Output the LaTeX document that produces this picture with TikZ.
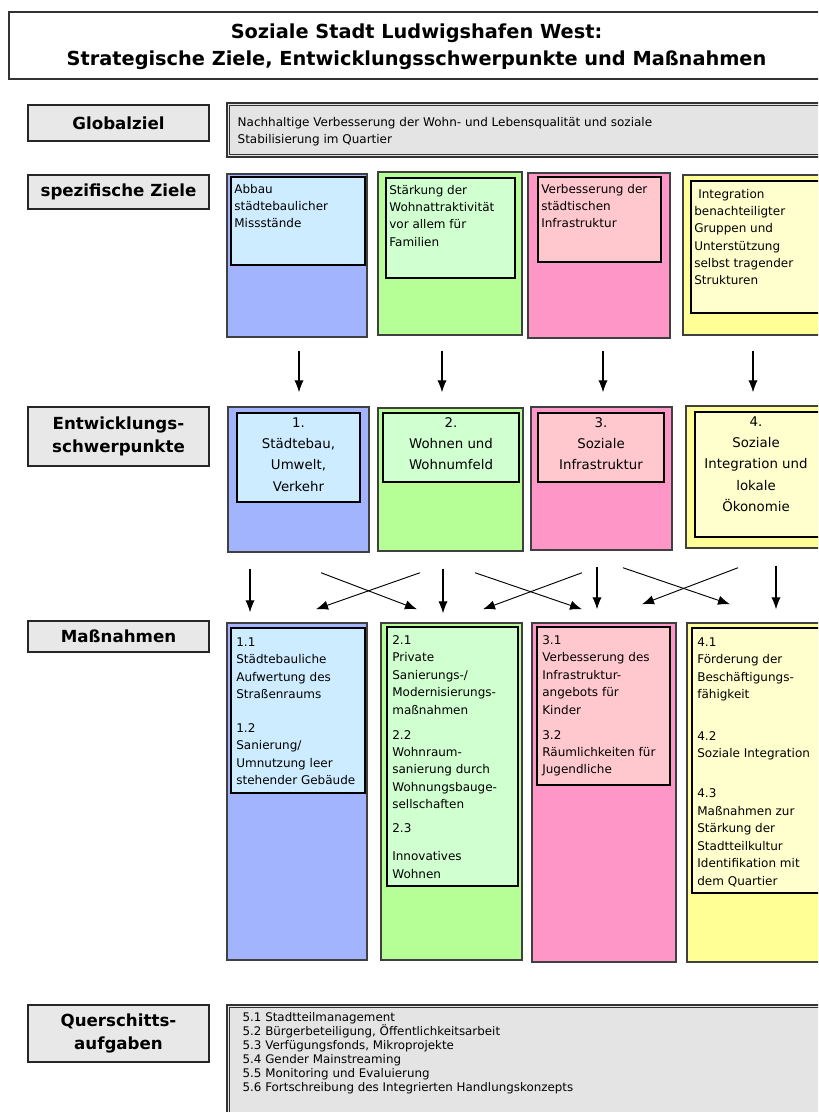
\documentclass[tikz,border=0pt]{standalone}
\usepackage{fontspec}
\setmainfont{DejaVu Sans}
\usetikzlibrary{arrows.meta, positioning, calc, fit}

\definecolor{blueout}{RGB}{163,180,255}
\definecolor{bluein}{RGB}{206,236,255}
\definecolor{greenout}{RGB}{182,255,150}
\definecolor{greenin}{RGB}{208,255,208}
\definecolor{pinkout}{RGB}{255,150,200}
\definecolor{pinkin}{RGB}{255,200,206}
\definecolor{yellowout}{RGB}{255,255,150}
\definecolor{yellowin}{RGB}{255,255,206}
\definecolor{lblgray}{RGB}{232,232,232}
\definecolor{boxgray}{RGB}{228,228,228}

\begin{document}
\begin{tikzpicture}[
    x=0.75pt, y=-0.75pt,
    colbox/.style={draw=black!75, line width=1.1pt, inner sep=0pt},
    inbox/.style={draw=black, line width=1.4pt, inner sep=0pt},
    lblbox/.style={draw=black!85, line width=1pt, fill=lblgray, inner sep=0pt},
    lbltext/.style={inner sep=0pt, align=center, font=\fontsize{12.5}{17}\selectfont\bfseries},
    graybox/.style={draw=black!80, line width=0.9pt, fill=boxgray, inner sep=0pt},
    frame/.style={draw=black!80, line width=0.6pt, inner sep=-2.4pt},
    coltext/.style={anchor=north west, inner sep=0pt, align=left, font=\fontsize{9}{12.9}\selectfont},
    midtext/.style={anchor=north, inner sep=0pt, align=center, font=\fontsize{10}{16}\selectfont},
    arr/.style={-{Latex[length=9pt,width=7pt]}, line width=0.8pt},
    crossarr/.style={-{Latex[length=9pt,width=7pt]}, line width=0.7pt}
]
\useasboundingbox (0,0) rectangle (818,1112);
\clip (0,0) rectangle (818,1112);

% title
\node [draw=black!80, line width=1pt, inner sep=0pt, fit={(9,12) (830,79)}] (title) {};
\node [inner sep=0pt, align=center, font=\fontsize{14.5}{20}\selectfont\bfseries] (titletext)
  at ($(title.center)+(-3,1)$)
  {Soziale Stadt Ludwigshafen West:\\Strategische Ziele, Entwicklungsschwerpunkte und Maßnahmen};

% row labels
\node [lblbox, fit={(28,105) (209,141)}] (glob) {};
\node [lblbox, fit={(28,175) (209,209)}] (spez) {};
\node [lblbox, fit={(28,407) (209,466)}] (entw) {};
\node [lblbox, fit={(28,621) (209,652)}] (mass) {};
\node [lblbox, fit={(28,1005) (209,1062)}] (quer) {};
\node [lbltext] (globt) at (glob) {Globalziel};
\node [lbltext] (spezt) at (spez) {spezifische Ziele};
\node [lbltext] (entwt) at (entw) {Entwicklungs-\\schwerpunkte};
\node [lbltext] (masst) at (mass) {Maßnahmen};
\node [lbltext] (quert) at (quer) {Querschitts-\\aufgaben};

% global goal
\node [graybox, fit={(227,103) (830,157)}] (globbox) {};
\node [frame, fit=(globbox)] (globframe) {};
\node [coltext] (globtext) at ($(globbox.north west)+(11,15)$)
  {Nachhaltige Verbesserung der Wohn- und Lebensqualität und soziale\\Stabilisierung im Quartier};

% specific goals
\node [colbox, fill=blueout, fit={(227,174) (367,337)}] (z1) {};
\node [colbox, fill=greenout, fit={(378,172) (522,335)}] (z2) {};
\node [colbox, fill=pinkout, fit={(528,173) (670,338)}] (z3) {};
\node [colbox, fill=yellowout, fit={(683,175) (830,335)}] (z4) {};
\node [inbox, fill=bluein, fit={(231,177) (365,265)}] (z1i) {};
\node [inbox, fill=greenin, fit={(386,178) (515,278)}] (z2i) {};
\node [inbox, fill=pinkin, fit={(538,177) (661,262)}] (z3i) {};
\node [inbox, fill=yellowin, fit={(691,181) (823,313)}] (z4i) {};
\node [coltext] (z1t) at ($(z1i.north west)+(4,8)$) {Abbau\\städtebaulicher\\Missstände};
\node [coltext] (z2t) at ($(z2i.north west)+(4,8)$) {Stärkung der\\Wohnattraktivität\\vor allem für\\Familien};
\node [coltext] (z3t) at ($(z3i.north west)+(4,8)$) {Verbesserung der\\städtischen\\Infrastruktur};
\node [coltext] (z4t) at ($(z4i.north west)+(4,9)$) {\hspace{3pt}Integration\\benachteiligter\\Gruppen und\\Unterstützung\\selbst tragender\\Strukturen};

% focal points
\node [colbox, fill=blueout, fit={(228,407) (369,552)}] (e1) {};
\node [colbox, fill=greenout, fit={(378,408) (523,551)}] (e2) {};
\node [colbox, fill=pinkout, fit={(531,407) (672,550)}] (e3) {};
\node [colbox, fill=yellowout, fit={(686,406) (830,548)}] (e4) {};
\node [inbox, fill=bluein, fit={(237,413) (360,502)}] (e1i) {};
\node [inbox, fill=greenin, fit={(383,413) (519,482)}] (e2i) {};
\node [inbox, fill=pinkin, fit={(538,413) (664,482)}] (e3i) {};
\node [inbox, fill=yellowin, fit={(695,412) (821,537)}] (e4i) {};
\node [midtext] (e1t) at ($(e1i.north)+(0,5)$) {1.\\Städtebau,\\Umwelt,\\Verkehr};
\node [midtext] (e2t) at ($(e2i.north)+(0,5)$) {2.\\Wohnen und\\Wohnumfeld};
\node [midtext] (e3t) at ($(e3i.north)+(0,5)$) {3.\\Soziale\\Infrastruktur};
\node [midtext] (e4t) at ($(e4i.north)+(-2,5)$) {4.\\Soziale\\Integration und\\lokale\\Ökonomie};

% measures
\node [colbox, fill=blueout, fit={(227,623) (367,960)}] (m1) {};
\node [colbox, fill=greenout, fit={(381,623) (522,960)}] (m2) {};
\node [colbox, fill=pinkout, fit={(532,623) (676,962)}] (m3) {};
\node [colbox, fill=yellowout, fit={(687,623) (830,962)}] (m4) {};
\node [inbox, fill=bluein, fit={(231,628) (365,793)}] (m1i) {};
\node [inbox, fill=greenin, fit={(387,627) (518,886)}] (m2i) {};
\node [inbox, fill=pinkin, fit={(537,627) (670,785)}] (m3i) {};
\node [inbox, fill=yellowin, fit={(692,628) (823,893)}] (m4i) {};
\node [coltext, font=\fontsize{9}{13.1}\selectfont] (m1t) at ($(m1i.north west)+(6,10)$)
  {1.1\\Städtebauliche\\Aufwertung des\\Straßenraums\\[12.4pt]1.2\\Sanierung/\\Umnutzung leer\\stehender Gebäude};
\node [coltext, font=\fontsize{9}{13.1}\selectfont] (m2t) at ($(m2i.north west)+(6,9)$)
  {2.1\\Private\\Sanierungs-/\\Modernisierungs-\\maßnahmen\\[5.6pt]2.2\\Wohnraum-\\sanierung durch\\Wohnungsbauge-\\sellschaften\\[4.9pt]2.3\\[7.9pt]Innovatives\\Wohnen};
\node [coltext, font=\fontsize{9}{13.1}\selectfont] (m3t) at ($(m3i.north west)+(6,9)$)
  {3.1\\Verbesserung des\\Infrastruktur-\\angebots für\\Kinder\\[5.6pt]3.2\\Räumlichkeiten für\\Jugendliche};
\node [coltext, font=\fontsize{9}{13.1}\selectfont] (m4t) at ($(m4i.north west)+(6,10)$)
  {4.1\\Förderung der\\Beschäftigungs-\\fähigkeit\\[18.4pt]4.2\\Soziale Integration\\[16.9pt]4.3\\Maßnahmen zur\\Stärkung der\\Stadtteilkultur\\Identifikation mit\\dem Quartier};

% cross-cutting tasks
\node [graybox, fit={(227,1005) (830,1125)}] (querbox) {};
\node [frame, fit=(querbox)] (querframe) {};
\node [coltext, font=\fontsize{8.9}{10.5}\selectfont] (quertext) at ($(querbox.north west)+(16,8)$)
  {5.1 Stadtteilmanagement\\5.2 Bürgerbeteiligung, Öffentlichkeitsarbeit\\5.3 Verfügungsfonds, Mikroprojekte\\5.4 Gender Mainstreaming\\5.5 Monitoring und Evaluierung\\5.6 Fortschreibung des Integrierten Handlungskonzepts};

% goals -> focal points
\draw [arr] ($(z1.south)+(2,13)$) -- ($(e1.north)+(0.5,-14)$);
\draw [arr] ($(z2.south)+(-8,15)$) -- ($(e2.north)+(-8.5,-15)$);
\draw [arr] ($(z3.south)+(4,12)$) -- ($(e3.north)+(1.5,-14)$);
\draw [arr] ($(z4.south)+(-3.5,15)$) -- ($(e4.north)+(-5,-13)$);

% focal points -> measures
\draw [arr] ($(e1.south)+(-48.5,16)$) -- ($(m1.north)+(-47,-10)$);
\draw [arr] ($(e2.south)+(-7.5,17)$) -- ($(m2.north)+(-8.5,-9)$);
\draw [arr] ($(e3.south)+(-4.5,16)$) -- ($(m3.north)+(-7,-13)$);
\draw [arr] ($(e4.south)+(18,17)$) -- ($(m4.north)+(17.5,-13)$);
\draw [crossarr] ($(e1.south)+(22.5,20)$) -- ($(m2.north)+(-34.5,-13)$);
\draw [crossarr] ($(e2.south)+(-30.5,21)$) -- ($(m1.north)+(19,-13)$);
\draw [crossarr] ($(e2.south)+(24.5,21)$) -- ($(m3.north)+(-22,-13)$);
\draw [crossarr] ($(e3.south)+(-19.5,22)$) -- ($(m2.north)+(31.5,-13)$);
\draw [crossarr] ($(e3.south)+(21.5,17)$) -- ($(m4.north)+(-28.5,-18)$);
\draw [crossarr] ($(e4.south)+(-20,19)$) -- ($(m3.north)+(38,-18)$);
\end{tikzpicture}
\end{document}
